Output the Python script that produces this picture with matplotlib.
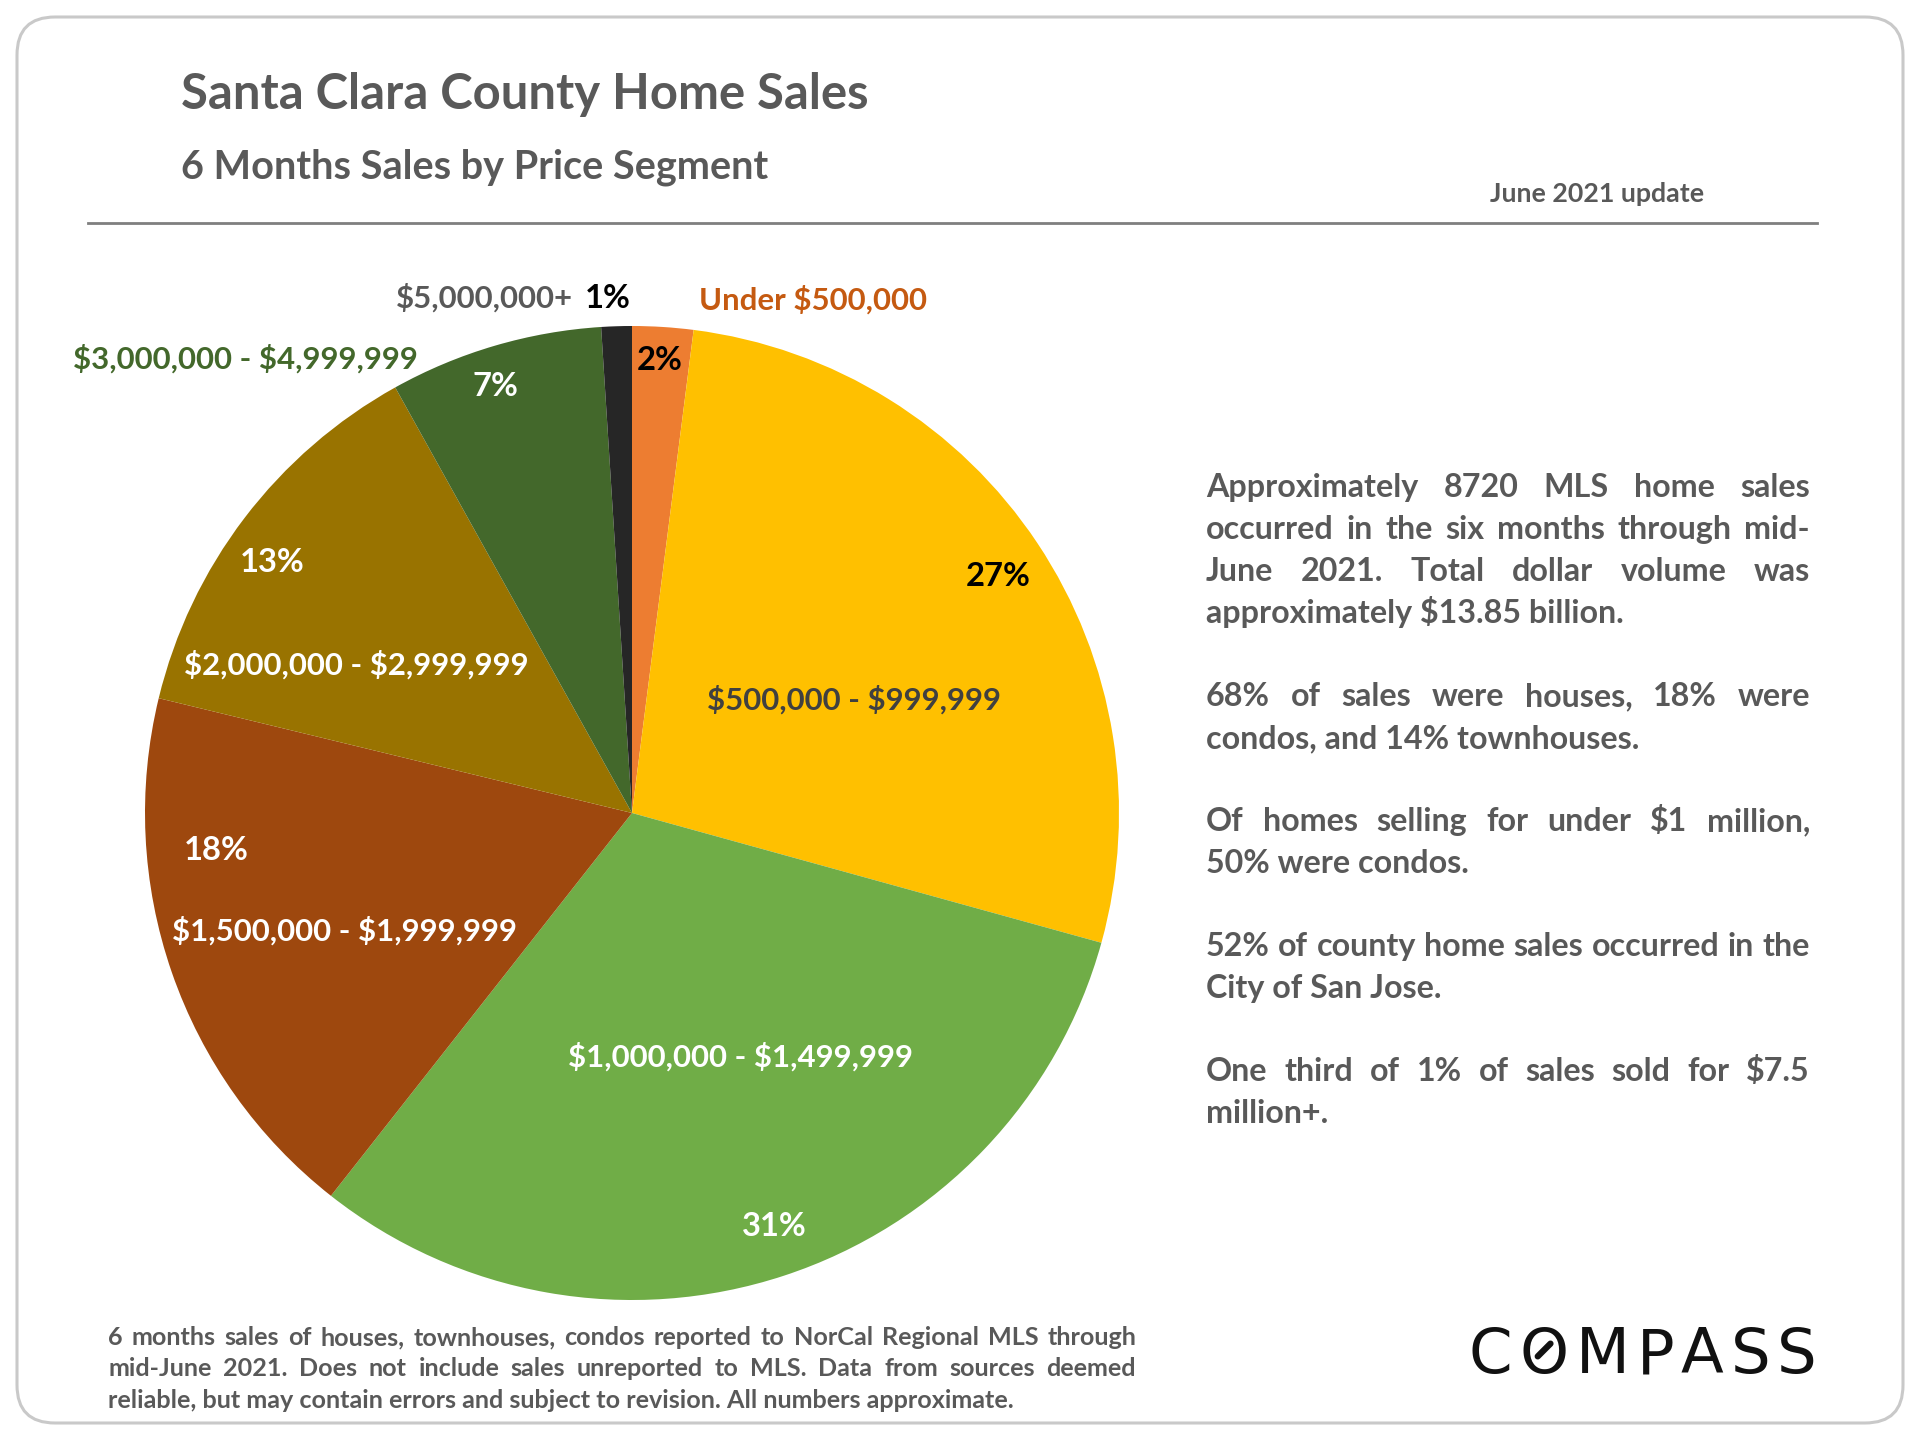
import matplotlib
matplotlib.use("Agg")
import matplotlib.pyplot as plt
from matplotlib.patches import FancyBboxPatch
from matplotlib.lines import Line2D

plt.rcParams['font.family'] = ['Lato', 'DejaVu Sans']
plt.rcParams['text.parse_math'] = False

# ---------------- data ----------------
categories = ['Under $500,000', '$500,000 - $999,999', '$1,000,000 - $1,499,999',
              '$1,500,000 - $1,999,999', '$2,000,000 - $2,999,999',
              '$3,000,000 - $4,999,999', '$5,000,000+']
shares = [2, 27, 31, 18, 13, 7, 1]
slice_colors = ['#ED7D31', '#FFC000', '#70AD47', '#9E480E', '#997300', '#43682B', '#262626']

title = 'Santa Clara County Home Sales'
subtitle = '6 Months Sales by Price Segment'
update_note = 'June 2021 update'

notes = [
    ['Approximately 8720 MLS home sales', 'occurred in the six months through mid-',
     'June 2021. Total dollar volume was', 'approximately $13.85 billion.'],
    ['68% of sales were houses, 18% were', 'condos, and 14% townhouses.'],
    ['Of homes selling for under $1 million,', '50% were condos.'],
    ['52% of county home sales occurred in the', 'City of San Jose.'],
    ['One third of 1% of sales sold for $7.5', 'million+.'],
]
footer = ['6 months sales of houses, townhouses, condos reported to NorCal Regional MLS through',
          'mid-June 2021. Does not include sales unreported to MLS. Data from sources deemed',
          'reliable, but may contain errors and subject to revision. All numbers approximate.']
brand = 'COMPASS'

# ---------------- figure ----------------
W, H = 1920, 1440
fig = plt.figure(figsize=(19.2, 14.4), dpi=100)
fig.patch.set_facecolor('white')
renderer = fig.canvas.get_renderer()

# pie axes: centre (632, 813) px, radius 487 px
cx, cy, R = 632, 813, 487
pie_ax = fig.add_axes([(cx - R) / W, (H - cy - R) / H, 2 * R / W, 2 * R / H])
pie_ax.set_zorder(1)
pie_ax.pie(shares, colors=slice_colors, startangle=90, counterclock=False,
           radius=1.0, wedgeprops=dict(linewidth=0))
pie_ax.set_xlim(-1, 1)
pie_ax.set_ylim(-1, 1)
pie_ax.set_aspect('equal')
pie_ax.axis('off')

# overlay axes in pixel coordinates (y down)
ax = fig.add_axes([0, 0, 1, 1])
ax.set_zorder(2)
ax.set_xlim(0, W)
ax.set_ylim(H, 0)
ax.axis('off')
ax.patch.set_alpha(0)

border = FancyBboxPatch((17, 17), 1886, 1406, boxstyle='round,pad=0,rounding_size=38',
                        fc='none', ec='#C9C9C9', lw=2.2, zorder=0)
ax.add_patch(border)


def text_width(s, size, weight='bold', family=None):
    t = ax.text(0, 0, s, fontsize=size, fontweight=weight, parse_math=False,
                **({'family': family} if family else {}))
    w = t.get_window_extent(renderer).width
    t.remove()
    return w


def fit_size(s, target, weight='bold', family=None):
    return 20 * target / text_width(s, 20, weight, family)


GRAY = '#595959'

# titles
fs_t = fit_size(title, 686)
ax.text(181, 109, title, fontsize=fs_t, fontweight='bold', color=GRAY, va='baseline')
fs_s = fit_size(subtitle, 586)
ax.text(181, 179, subtitle, fontsize=fs_s, fontweight='bold', color=GRAY, va='baseline')
fs_u = fit_size(update_note, 214)
ax.text(1490, 202, update_note, fontsize=fs_u, fontweight='bold', color=GRAY, va='baseline')
ax.add_line(Line2D([88, 1817], [223, 223], color='#7F7F7F', lw=2.0))

# ---------------- pie labels ----------------
fs_l = fit_size('$1,500,000 - $1,999,999', 346)
label_pos = {
    0: (813, 300, '#C55A11'),
    1: (854, 700, '#404040'),
    2: (740, 1057, 'white'),
    3: (344, 931, 'white'),
    4: (356, 665, 'white'),
    5: (245, 359, '#43682B'),
}
for i, (x, y, c) in label_pos.items():
    ax.text(x, y, categories[i], fontsize=fs_l, fontweight='bold', color=c,
            ha='center', va='center', parse_math=False)
ax.text(573, 298, categories[6], fontsize=fs_l, fontweight='bold', color=GRAY,
        ha='right', va='center', parse_math=False)

pct_pos = [(660, 361, 'black'), (998, 576, 'black'), (774, 1227, 'white'),
           (216, 850, 'white'), (272, 562, 'white'), (495, 386, 'white'),
           (608, 298, 'black')]
for v, (x, y, c) in zip(shares, pct_pos):
    ax.text(x, y, f'{v}%', fontsize=fs_l * 1.05, fontweight='bold', color=c,
            ha='center', va='center')


# ---------------- justified text ----------------
def draw_line(s, x0, x1, y, size, color, justify, weight='bold'):
    if not justify:
        ax.text(x0, y, s, fontsize=size, fontweight=weight, color=color, va='baseline',
                parse_math=False)
        return
    words = s.split(' ')
    widths = [text_width(w, size, weight) for w in words]
    gap = (x1 - x0 - sum(widths)) / (len(words) - 1)
    x = x0
    for w, wd in zip(words, widths):
        ax.text(x, y, w, fontsize=size, fontweight=weight, color=color, va='baseline',
                parse_math=False)
        x += wd + gap


fs_n = fit_size('approximately $13.85 billion.', 419)
y = 497
for para in notes:
    for j, line in enumerate(para):
        draw_line(line, 1206, 1810, y, fs_n, GRAY, justify=(j < len(para) - 1))
        y += 42
    y += 41

fs_f = fit_size(footer[2], 906)
for j, (line, yy) in enumerate(zip(footer, [1345, 1376, 1408])):
    draw_line(line, 108, 1136, yy, fs_f, GRAY, justify=(j < 2))

# ---------------- brand ----------------
bfam = 'DejaVu Sans'
bsize = 45
letters = list(brand)
lw_ = [text_width(ch, bsize, 'normal', bfam) for ch in letters]
gap = (1817 - 1469 - sum(lw_)) / (len(letters) - 1)
x = 1469
for ch, wd in zip(letters, lw_):
    ax.text(x, 1373, ch, fontsize=bsize, fontweight='normal', family=bfam,
            color='#111111', va='baseline')
    if ch == 'O':
        ocx = x + wd / 2
        ocy = 1350
        d = wd * 0.13
        ax.add_line(Line2D([ocx - d, ocx + d], [ocy + d, ocy - d], color='#111111',
                           lw=4.5, solid_capstyle='round'))
    x += wd + gap

fig.savefig('out.png', dpi=100, facecolor='white')
